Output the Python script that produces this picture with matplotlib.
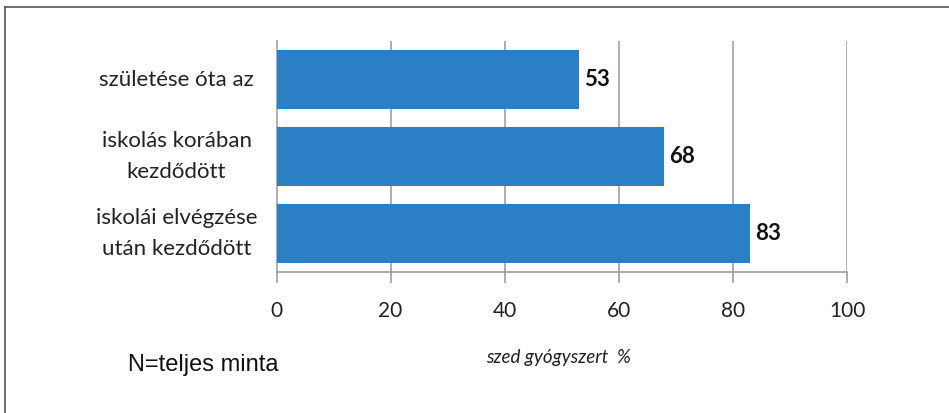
import matplotlib
matplotlib.use("Agg")
import matplotlib.pyplot as plt
from matplotlib.lines import Line2D

categories = ["születése óta az", "iskolás korában\nkezdődött", "iskolái elvégzése\nután kezdődött"]
values = [53, 68, 83]
xticks = [0, 20, 40, 60, 80, 100]
xlabel = "szed gyógyszert  %"
note = "N=teljes minta"

W, H = 949, 413
fig = plt.figure(figsize=(W / 100, H / 100), dpi=100)
fig.patch.set_facecolor("white")

# axes placement in pixels
x0, x1 = 276.5, 847
y_top, y_bot = 41, 272
ax = fig.add_axes([x0 / W, 1 - y_bot / H, (x1 - x0) / W, (y_bot - y_top) / H])

bar_color = "#2b7fc4"
ypos = list(range(len(categories)))
ax.barh(ypos, values, height=0.76, color=bar_color, zorder=3)
ax.set_ylim(len(categories) - 0.5, -0.5)
ax.set_xlim(0, 100)

grid_c = "#a0a0a0"
for t in xticks[1:]:
    ax.axvline(t, color=grid_c, lw=1.2, zorder=1)

for s in ["top", "right"]:
    ax.spines[s].set_visible(False)
for s in ["left", "bottom"]:
    ax.spines[s].set_color(grid_c)
    ax.spines[s].set_linewidth(1.2)

ax.set_xticks(xticks)
ax.set_xticklabels([str(t) for t in xticks], fontfamily="Lato", fontsize=15, color="#222222")
ax.tick_params(axis="x", length=8, width=1.2, color=grid_c, pad=13)
ax.set_yticks(ypos)
ax.set_yticklabels(categories, fontfamily="Lato", fontsize=16, color="#222222",
                   linespacing=1.72, ha="center", va="center")
ax.tick_params(axis="y", length=0, pad=72)

for y, v in zip(ypos, values):
    ax.text(v + 0.9, y, str(v), va="center", ha="left", fontfamily="Lato",
            fontweight="bold", fontsize=16, color="#111111", zorder=4)

fig.text(486 / W, 1 - 358 / H, xlabel, fontfamily="Lato", style="italic",
         fontsize=13.5, color="#222222", va="center", ha="left")
fig.text(128 / W, 1 - 365 / H, note, fontfamily="Liberation Sans",
         fontsize=17, color="#111111", va="center", ha="left")

# outer frame (top and left edges)
fc = "#555555"
fig.add_artist(Line2D([5 / W, 1], [1 - 7 / H, 1 - 7 / H], color=fc, lw=1.2,
                      transform=fig.transFigure))
fig.add_artist(Line2D([5 / W, 5 / W], [0, 1 - 7 / H], color=fc, lw=1.2,
                      transform=fig.transFigure))

fig.savefig("out.png", dpi=100, facecolor="white")
